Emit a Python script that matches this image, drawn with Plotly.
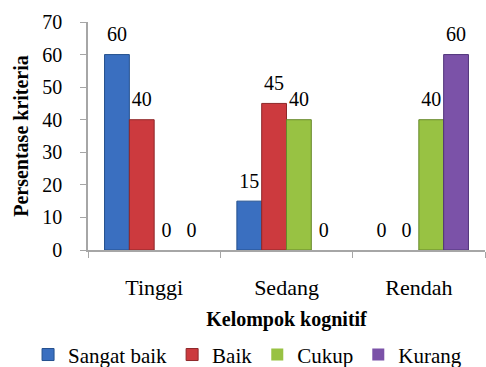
import plotly.graph_objects as go

categories = ["Tinggi", "Sedang", "Rendah"]
series_names = ["Sangat baik", "Baik", "Cukup", "Kurang"]
sangat_baik = [60, 15, 0]
baik = [40, 45, 0]
cukup = [0, 40, 40]
kurang = [0, 0, 60]
values = [sangat_baik, baik, cukup, kurang]
colors = ["#3A6FC0", "#CC3A3E", "#98C243", "#7B52A8"]
edge = ["#24508E", "#8E2729", "#66882A", "#51347A"]

FONT = "Liberation Serif"

fig = go.Figure()
for name, vals, c, e in zip(series_names, values, colors, edge):
    fig.add_trace(go.Bar(
        x=categories, y=vals, name=name,
        marker=dict(color=c, line=dict(color=e, width=[1 if v > 0 else 0 for v in vals])),
        hoverinfo="x+y+name",
    ))
for name, vals in zip(series_names, values):
    fig.add_trace(go.Scatter(
        x=categories, y=vals, name=name, mode="markers+text",
        text=[str(v) for v in vals], textposition="top center",
        textfont=dict(family=FONT, size=20, color="black"),
        marker=dict(size=12, opacity=0, color="white"),
        showlegend=False, cliponaxis=False, hoverinfo="skip",
    ))

fig.update_layout(
    template="none",
    barmode="group", bargap=0.25, bargroupgap=0,
    scattermode="group", scattergap=0.25,
    width=486, height=367,
    margin=dict(l=88, r=1, t=22, b=117, autoexpand=False),
    paper_bgcolor="white", plot_bgcolor="white",
    font=dict(family=FONT, size=20, color="black"),
    showlegend=True,
    legend=dict(orientation="h", xref="paper", yref="paper",
                x=-0.151, xanchor="left", y=-0.46, yanchor="middle",
                font=dict(family=FONT, size=21, color="black"),
                itemwidth=30, tracegroupgap=0,
                bgcolor="rgba(0,0,0,0)"),
)
fig.update_xaxes(
    automargin=True,
    showline=True, linecolor="#A6A6A6", linewidth=1.5,
    ticks="outside", tickson="boundaries", ticklen=6, tickcolor="#A6A6A6",
    ticklabelstandoff=17,
    tickfont=dict(family=FONT, size=22),
    title=dict(text="<b>Kelompok kognitif</b>", font=dict(family=FONT, size=20), standoff=13),
    showgrid=False, zeroline=False,
)
fig.update_yaxes(
    automargin=True,
    range=[0, 70], dtick=10,
    showline=True, linecolor="#A6A6A6", linewidth=1.5,
    ticks="outside", ticklen=6, tickcolor="#A6A6A6",
    ticklabelstandoff=14,
    tickfont=dict(family=FONT, size=20),
    title=dict(text="<b>Persentase kriteria</b>", font=dict(family=FONT, size=20), standoff=8),
    showgrid=False, zeroline=False,
)

fig.write_html("out.html")
